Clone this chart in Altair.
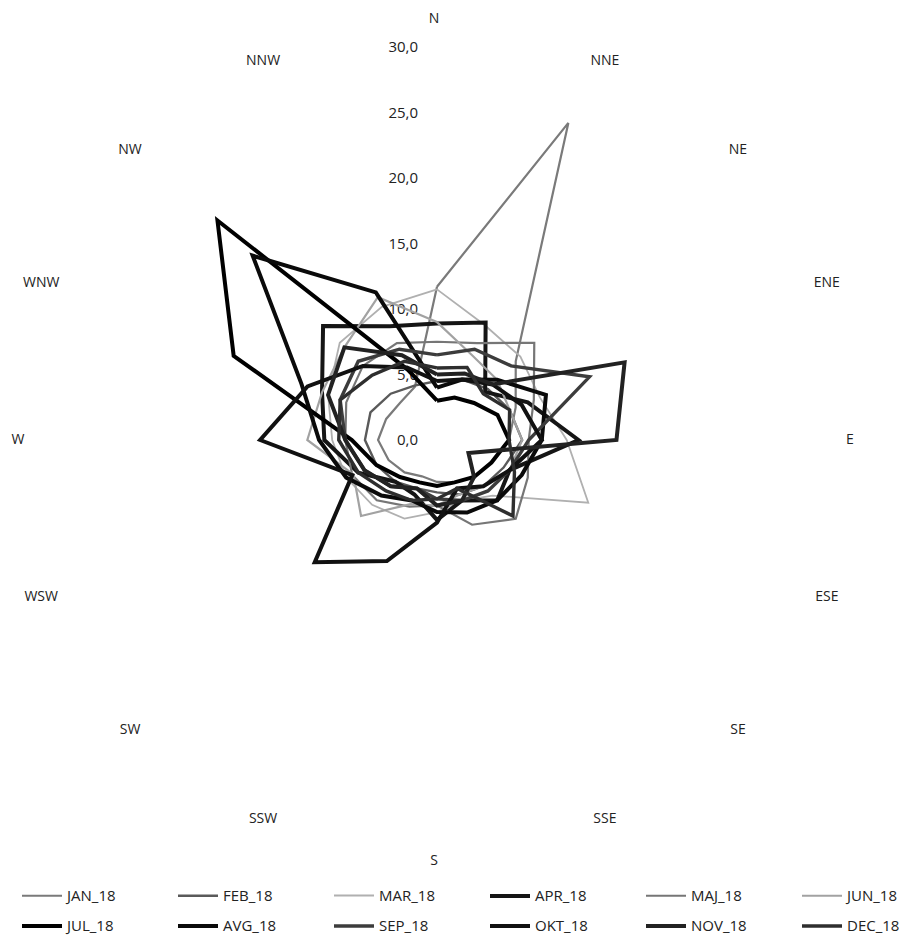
import altair as alt
import pandas as pd

# ---- data (order: N, NNE, NE, ... clockwise) ----
directions = ["N", "NNE", "NE", "ENE", "E", "ESE", "SE", "SSE",
              "S", "SSW", "SW", "WSW", "W", "WNW", "NW", "NNW"]

months = ["JAN_18", "FEB_18", "MAR_18", "APR_18", "MAJ_18", "JUN_18",
          "JUL_18", "AVG_18", "SEP_18", "OKT_18", "NOV_18", "DEC_18"]

JAN_18 = [11.7, 26.2, 8.5, 6.5, 5.5, 4.5, 4.0, 3.5, 3.2, 3.0, 3.5, 4.0, 4.5, 4.2, 4.0, 4.4]
FEB_18 = [4.5, 5.0, 5.5, 6.0, 6.5, 5.5, 5.0, 4.5, 4.0, 4.0, 4.5, 5.0, 5.5, 5.5, 5.0, 4.5]
MAR_18 = [11.5, 9.5, 9.0, 8.5, 9.9, 12.5, 6.0, 5.0, 5.5, 6.5, 7.0, 7.5, 8.0, 9.0, 10.5, 11.0]
APR_18 = [8.9, 9.7, 5.2, 7.5, 10.8, 6.0, 6.5, 5.0, 6.1, 4.5, 4.5, 6.5, 8.6, 9.5, 12.3, 9.4]
MAJ_18 = [7.5, 8.0, 10.5, 8.0, 7.0, 7.5, 8.5, 7.0, 5.0, 5.5, 6.5, 7.0, 7.0, 7.5, 8.0, 8.0]
JUN_18 = [9.0, 7.0, 6.5, 6.0, 6.5, 6.0, 5.0, 4.5, 5.0, 5.3, 8.2, 6.9, 9.9, 9.5, 10.0, 11.8]
JUL_18 = [3.0, 3.5, 4.0, 5.0, 5.5, 4.5, 4.0, 3.5, 3.5, 3.5, 4.0, 5.0, 6.5, 16.8, 23.7, 5.8]
AVG_18 = [4.0, 5.0, 6.5, 9.0, 8.0, 7.0, 6.5, 6.0, 5.5, 5.0, 6.0, 7.5, 9.0, 11.2, 19.9, 12.2]
SEP_18 = [6.5, 7.5, 8.0, 12.6, 7.0, 6.0, 5.5, 5.0, 4.5, 4.0, 5.0, 6.0, 7.0, 8.0, 8.5, 7.5]
OKT_18 = [4.5, 5.0, 6.0, 7.0, 8.0, 6.0, 5.0, 4.0, 6.3, 10.0, 13.2, 7.0, 13.5, 10.7, 8.0, 6.0]
NOV_18 = [5.0, 5.5, 6.0, 15.5, 13.7, 2.6, 4.0, 5.0, 5.0, 4.0, 5.0, 6.0, 7.0, 9.0, 10.0, 7.0]
DEC_18 = [5.5, 6.0, 5.0, 6.0, 5.5, 6.4, 8.2, 4.0, 4.5, 5.0, 5.5, 6.5, 7.5, 8.0, 7.0, 6.5]

series_values = [JAN_18, FEB_18, MAR_18, APR_18, MAJ_18, JUN_18,
                 JUL_18, AVG_18, SEP_18, OKT_18, NOV_18, DEC_18]

tick_values = [0, 5, 10, 15, 20, 25, 30]
tick_labels = ["0,0", "5,0", "10,0", "15,0", "20,0", "25,0", "30,0"]

# ---- styles ----
colors = ["#7a7a7a", "#5a5a5a", "#b0b0b0", "#151515", "#767676", "#a2a2a2",
          "#000000", "#0a0a0a", "#3c3c3c", "#111111", "#222222", "#2e2e2e"]
widths = [2.2, 2.4, 1.8, 4, 2.2, 2.2, 4, 4, 3.4, 4, 4, 3.4]

FONT = "Open Sans"
PX = 13.1               # pixels per unit
W, H = 900, 927
CX, CY = 429, 432       # centre in plot pixels
LR = 31.3               # radius (units) of the direction-label ring
LKX = 1.07              # horizontal push of side labels (units)
LKE = 0.45              # horizontal push of E / W labels (units)
LKY = 0.84              # extra vertical push of N / S labels (units)

# ---- long table (closed polygons) ----
rows = []
for m, vals in zip(months, series_values):
    n = len(directions)
    for i in range(n + 1):
        rows.append({"series": m, "i": i, "dir": directions[i % n], "v": vals[i % n]})
df = pd.DataFrame(rows)

dir_df = pd.DataFrame({"dir": directions, "i": list(range(len(directions)))})
tick_df = pd.DataFrame({"v": tick_values, "label": tick_labels})

xs = alt.Scale(domain=[-CX / PX, (W - CX) / PX], nice=False, zero=False)
ys = alt.Scale(domain=[-(H - CY) / PX, CY / PX], nice=False, zero=False)

ticks = alt.Chart(tick_df).mark_text(
    align="right", baseline="middle", dx=-19, font=FONT, fontSize=15, color="#222222"
).encode(
    x=alt.X("x:Q", scale=xs, axis=None),
    y=alt.Y("v:Q", scale=ys, axis=None),
    text="label:N",
).transform_calculate(x="0")

dir_labels = alt.Chart(dir_df).mark_text(
    align="center", baseline="middle", font=FONT, fontSize=14, color="#222222", dx=-3
).transform_calculate(
    s="sin(datum.i * PI / 8)",
    c="cos(datum.i * PI / 8)",
).transform_calculate(
    kx=f"abs(datum.s) > 0.99 ? {LKE} : (abs(datum.s) > 0.01 ? {LKX} : 0)",
).transform_calculate(
    x=f"{LR} * datum.s + datum.kx * (datum.s > 0 ? 1 : -1)",
    y=f"{LR} * datum.c + (abs(datum.c) > 0.99 ? {LKY} * (datum.c > 0 ? 1 : -1) : 0)",
).encode(
    x=alt.X("x:Q", scale=xs, axis=None),
    y=alt.Y("y:Q", scale=ys, axis=None),
    text="dir:N",
)

legend_cfg = dict(
    title=None, orient="none", legendX=12, legendY=866, columns=6,
    direction="horizontal", symbolType="stroke", symbolSize=1600,
    labelFont=FONT, labelFontSize=15, labelColor="#222222", labelOffset=3,
    columnPadding=47, rowPadding=-14, gridAlign="all", labelLimit=200,
)

lines = alt.Chart(df).mark_line(strokeJoin="miter", strokeCap="butt").transform_calculate(
    x="datum.v * sin(datum.i * PI / 8)",
    y="datum.v * cos(datum.i * PI / 8)",
).encode(
    x=alt.X("x:Q", scale=xs, axis=None),
    y=alt.Y("y:Q", scale=ys, axis=None),
    order="i:Q",
    color=alt.Color(
        "series:N",
        scale=alt.Scale(domain=months, range=colors),
        sort=months,
        legend=alt.Legend(**legend_cfg),
    ),
    strokeWidth=alt.StrokeWidth(
        "series:N",
        scale=alt.Scale(type="ordinal", domain=months, range=widths),
        sort=months,
        legend=alt.Legend(**legend_cfg),
    ),
    detail="series:N",
)

chart = alt.layer(ticks, dir_labels, lines).properties(
    width=W, height=H, padding=0, autosize=alt.AutoSizeParams(type="none"),
    background="white",
).configure_view(stroke=None)

chart.save("out.html", embed_options={"renderer": "svg", "actions": False})
